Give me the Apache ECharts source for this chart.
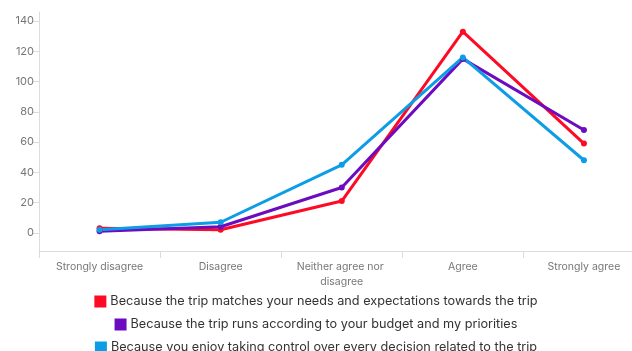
<!DOCTYPE html>
<html>
<head>
<meta charset="utf-8">
<script src="https://cdn.jsdelivr.net/npm/echarts@6/dist/echarts.min.js"></script>
<style>
  html, body { margin: 0; padding: 0; background: #fff; }
  #chart { width: 632px; height: 351px; }
</style>
</head>
<body>
<div id="chart"></div>
<script>
// Likert scale answers along the x axis
const categories = ['Strongly disagree', 'Disagree', 'Neither agree nor disagree', 'Agree', 'Strongly agree'];

// Respondent counts per statement
const seriesNames = [
  'Because the trip matches your needs and expectations towards the trip',
  'Because the trip runs according to your budget and my priorities',
  'Because you enjoy taking control over every decision related to the trip'
];
const matchesNeeds = [3, 2, 21, 133, 59];
const fitsBudget = [1, 4, 30, 115, 68];
const enjoysControl = [2, 7, 45, 116, 48];

const seriesColors = ['#ff0a24', '#6c0bbf', '#0d9de6'];
const valueSets = [matchesNeeds, fitsBudget, enjoysControl];

const font = 'Inter, "Noto Sans", sans-serif';
const chart = echarts.init(document.getElementById('chart'), null, { renderer: 'canvas' });

const legendTops = [295, 318, 341];

chart.setOption({
  animation: false,
  textStyle: { fontFamily: font },
  grid: {
    left: 39, right: -12.5, top: 12, bottom: 100,
    outerBoundsMode: 'none'
  },
  legend: seriesNames.map((name, i) => ({
    data: [name],
    left: 'center',
    top: legendTops[i],
    icon: 'rect',
    itemWidth: 12,
    itemHeight: 12,
    itemGap: 0,
    padding: 0,
    textStyle: { fontFamily: font, fontSize: 12.7, color: '#333', padding: [0, 0, 0, -1] }
  })),
  xAxis: {
    type: 'category',
    data: categories,
    boundaryGap: true,
    axisLine: { onZero: false, lineStyle: { color: '#dcdcdc', width: 1 } },
    axisTick: { show: true, length: 7, lineStyle: { color: '#dcdcdc' } },
    axisLabel: {
      color: '#777',
      fontSize: 10.5,
      fontFamily: font,
      margin: 8,
      lineHeight: 15,
      width: 100,
      overflow: 'break',
      interval: 0
    },
    splitLine: { show: false }
  },
  yAxis: {
    type: 'value',
    min: -12,
    max: 146,
    splitNumber: 8,
    axisLine: { show: true, lineStyle: { color: '#dcdcdc', width: 1 } },
    axisTick: { show: true, length: 6, lineStyle: { color: '#dcdcdc' } },
    axisLabel: {
      color: '#777',
      fontSize: 11,
      fontFamily: font,
      margin: 5,
      showMinLabel: false,
      showMaxLabel: false,
      formatter: v => (v % 20 === 0 ? String(v) : '')
    },
    splitLine: { show: false }
  },
  series: seriesNames.map((name, i) => ({
    name,
    type: 'line',
    data: valueSets[i],
    color: seriesColors[i],
    symbol: 'circle',
    symbolSize: 6,
    lineStyle: { width: 3, color: seriesColors[i] },
    itemStyle: { color: seriesColors[i] }
  }))
});
</script>
</body>
</html>
